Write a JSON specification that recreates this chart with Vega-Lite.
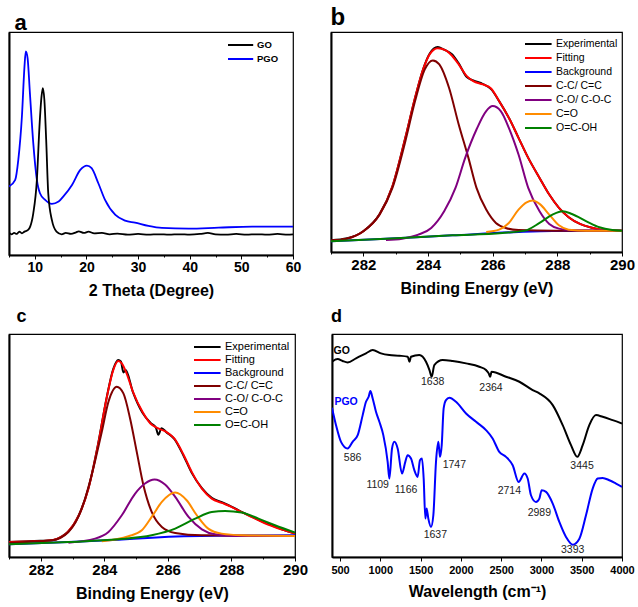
{
 "$schema": "https://vega.github.io/schema/vega-lite/v6.json",
 "padding": {"left": 7, "top": 5, "right": 2, "bottom": 2},
 "background": "white",
 "config": {
  "view": {"stroke": "black", "strokeWidth": 1.2},
  "font": "Liberation Sans",
  "title": {"anchor": "start", "font": "Liberation Sans", "fontSize": 22, "fontWeight": "bold", "color": "black", "offset": 2},
  "axis": {"labelFont": "Liberation Sans", "labelFontWeight": "bold", "labelFontSize": 15, "labelColor": "black", "titleFont": "Liberation Sans", "titleFontWeight": "bold", "titleFontSize": 16, "titleColor": "black", "domainColor": "black", "domainWidth": 2, "tickColor": "black", "tickWidth": 1, "grid": false, "labelPadding": 1, "titlePadding": 8, "labelFlush": false, "labelOverlap": false},
  "axisY": {"labels": false, "ticks": false, "title": null},
  "legend": {"orient": "top-right", "offset": 4, "padding": 0, "title": null, "labelFont": "Liberation Sans", "labelFontSize": 10.5, "labelColor": "black", "symbolType": "M-1,0H2.8", "symbolStrokeWidth": 2, "symbolSize": 196, "labelOffset": 16, "rowPadding": 0}
 },
 "datasets": {
  "a": [
   {"x": 5.0, "y": 205, "s": "PGO"}, {"x": 6.2, "y": 225, "s": "PGO"}, {"x": 6.8, "y": 285, "s": "PGO"}, {"x": 7.5, "y": 415, "s": "PGO"}, {"x": 8.0, "y": 565, "s": "PGO"}, {"x": 8.25, "y": 610, "s": "PGO"}, {"x": 8.6, "y": 590, "s": "PGO"}, {"x": 9.05, "y": 485, "s": "PGO"}, {"x": 9.7, "y": 335, "s": "PGO"}, {"x": 10.4, "y": 225, "s": "PGO"}, {"x": 11.0, "y": 185, "s": "PGO"}, {"x": 12.0, "y": 165, "s": "PGO"}, {"x": 13.3, "y": 153, "s": "PGO"}, {"x": 14.6, "y": 160, "s": "PGO"}, {"x": 15.5, "y": 175, "s": "PGO"}, {"x": 17.2, "y": 210, "s": "PGO"}, {"x": 18.8, "y": 255, "s": "PGO"}, {"x": 20.1, "y": 268, "s": "PGO"}, {"x": 21.0, "y": 260, "s": "PGO"}, {"x": 22.3, "y": 215, "s": "PGO"}, {"x": 23.6, "y": 165, "s": "PGO"}, {"x": 25.6, "y": 120, "s": "PGO"}, {"x": 27.5, "y": 103, "s": "PGO"}, {"x": 29.4, "y": 97, "s": "PGO"}, {"x": 32.0, "y": 87, "s": "PGO"}, {"x": 34.6, "y": 81, "s": "PGO"}, {"x": 39.8, "y": 79, "s": "PGO"}, {"x": 45.6, "y": 82, "s": "PGO"}, {"x": 52.1, "y": 85, "s": "PGO"}, {"x": 60.0, "y": 85, "s": "PGO"},
   {"x": 5.0, "y": 67, "s": "GO"}, {"x": 5.5, "y": 62, "s": "GO"}, {"x": 6.0, "y": 66, "s": "GO"}, {"x": 6.5, "y": 63, "s": "GO"}, {"x": 7.0, "y": 70, "s": "GO"}, {"x": 7.5, "y": 65, "s": "GO"}, {"x": 8.0, "y": 70, "s": "GO"}, {"x": 8.7, "y": 75, "s": "GO"}, {"x": 9.1, "y": 85, "s": "GO"}, {"x": 9.7, "y": 125, "s": "GO"}, {"x": 10.4, "y": 225, "s": "GO"}, {"x": 10.9, "y": 385, "s": "GO"}, {"x": 11.3, "y": 475, "s": "GO"}, {"x": 11.55, "y": 500, "s": "GO"}, {"x": 11.85, "y": 465, "s": "GO"}, {"x": 12.2, "y": 345, "s": "GO"}, {"x": 12.6, "y": 185, "s": "GO"}, {"x": 13.3, "y": 105, "s": "GO"}, {"x": 14.2, "y": 70, "s": "GO"}, {"x": 15.2, "y": 62, "s": "GO"}, {"x": 16.0, "y": 66, "s": "GO"}, {"x": 17.0, "y": 63, "s": "GO"}, {"x": 18.0, "y": 68, "s": "GO"}, {"x": 18.5, "y": 71, "s": "GO"}, {"x": 19.5, "y": 66, "s": "GO"}, {"x": 20.4, "y": 70, "s": "GO"}, {"x": 21.5, "y": 65, "s": "GO"}, {"x": 23.0, "y": 66, "s": "GO"}, {"x": 24.5, "y": 62, "s": "GO"}, {"x": 26.0, "y": 64, "s": "GO"}, {"x": 28.0, "y": 61, "s": "GO"}, {"x": 30.0, "y": 63, "s": "GO"}, {"x": 32.0, "y": 61, "s": "GO"}, {"x": 34.0, "y": 62, "s": "GO"}, {"x": 36.0, "y": 61, "s": "GO"}, {"x": 38.0, "y": 62, "s": "GO"}, {"x": 40.0, "y": 61, "s": "GO"}, {"x": 42.0, "y": 63, "s": "GO"}, {"x": 43.5, "y": 66, "s": "GO"}, {"x": 45.0, "y": 62, "s": "GO"}, {"x": 47.0, "y": 61, "s": "GO"}, {"x": 49.0, "y": 63, "s": "GO"}, {"x": 51.0, "y": 61, "s": "GO"}, {"x": 53.0, "y": 62, "s": "GO"}, {"x": 55.0, "y": 61, "s": "GO"}, {"x": 57.0, "y": 63, "s": "GO"}, {"x": 59.0, "y": 61, "s": "GO"}, {"x": 60.0, "y": 62, "s": "GO"}
  ],
  "b": [
   {"x": 281.0, "y": 35, "s": "Experimental"}, {"x": 281.5, "y": 41, "s": "Experimental"}, {"x": 282.0, "y": 62, "s": "Experimental"}, {"x": 282.5, "y": 113, "s": "Experimental"}, {"x": 282.9, "y": 197, "s": "Experimental"}, {"x": 283.3, "y": 343, "s": "Experimental"}, {"x": 283.6, "y": 462, "s": "Experimental"}, {"x": 283.85, "y": 548, "s": "Experimental"}, {"x": 284.05, "y": 594, "s": "Experimental"}, {"x": 284.3, "y": 614, "s": "Experimental"}, {"x": 284.5, "y": 606, "s": "Experimental"}, {"x": 284.75, "y": 592, "s": "Experimental"}, {"x": 284.95, "y": 565, "s": "Experimental"}, {"x": 285.2, "y": 524, "s": "Experimental"}, {"x": 285.4, "y": 514, "s": "Experimental"}, {"x": 285.7, "y": 503, "s": "Experimental"}, {"x": 285.95, "y": 488, "s": "Experimental"}, {"x": 286.2, "y": 452, "s": "Experimental"}, {"x": 286.5, "y": 402, "s": "Experimental"}, {"x": 286.8, "y": 342, "s": "Experimental"}, {"x": 287.1, "y": 282, "s": "Experimental"}, {"x": 287.45, "y": 222, "s": "Experimental"}, {"x": 287.75, "y": 172, "s": "Experimental"}, {"x": 288.05, "y": 132, "s": "Experimental"}, {"x": 288.35, "y": 104, "s": "Experimental"}, {"x": 288.7, "y": 84, "s": "Experimental"}, {"x": 289.1, "y": 72, "s": "Experimental"}, {"x": 289.5, "y": 64, "s": "Experimental"}, {"x": 290.0, "y": 64, "s": "Experimental"},
   {"x": 281.0, "y": 34, "s": "Fitting"}, {"x": 281.5, "y": 40, "s": "Fitting"}, {"x": 282.0, "y": 62, "s": "Fitting"}, {"x": 282.5, "y": 112, "s": "Fitting"}, {"x": 282.9, "y": 197, "s": "Fitting"}, {"x": 283.3, "y": 342, "s": "Fitting"}, {"x": 283.6, "y": 462, "s": "Fitting"}, {"x": 283.85, "y": 547, "s": "Fitting"}, {"x": 284.05, "y": 592, "s": "Fitting"}, {"x": 284.3, "y": 610, "s": "Fitting"}, {"x": 284.55, "y": 604, "s": "Fitting"}, {"x": 284.75, "y": 587, "s": "Fitting"}, {"x": 284.95, "y": 562, "s": "Fitting"}, {"x": 285.2, "y": 527, "s": "Fitting"}, {"x": 285.4, "y": 512, "s": "Fitting"}, {"x": 285.7, "y": 502, "s": "Fitting"}, {"x": 285.95, "y": 490, "s": "Fitting"}, {"x": 286.2, "y": 452, "s": "Fitting"}, {"x": 286.5, "y": 402, "s": "Fitting"}, {"x": 286.8, "y": 342, "s": "Fitting"}, {"x": 287.1, "y": 282, "s": "Fitting"}, {"x": 287.45, "y": 222, "s": "Fitting"}, {"x": 287.75, "y": 172, "s": "Fitting"}, {"x": 288.05, "y": 132, "s": "Fitting"}, {"x": 288.35, "y": 104, "s": "Fitting"}, {"x": 288.7, "y": 84, "s": "Fitting"}, {"x": 289.1, "y": 72, "s": "Fitting"}, {"x": 289.5, "y": 66, "s": "Fitting"}, {"x": 290.0, "y": 64, "s": "Fitting"},
   {"x": 281.0, "y": 32, "s": "Background"}, {"x": 282.7, "y": 40, "s": "Background"}, {"x": 284.75, "y": 50, "s": "Background"}, {"x": 286.8, "y": 60, "s": "Background"}, {"x": 287.85, "y": 63, "s": "Background"}, {"x": 290.0, "y": 64, "s": "Background"},
   {"x": 281.0, "y": 34, "s": "C-C/ C=C"}, {"x": 281.5, "y": 40, "s": "C-C/ C=C"}, {"x": 282.0, "y": 62, "s": "C-C/ C=C"}, {"x": 282.5, "y": 112, "s": "C-C/ C=C"}, {"x": 282.9, "y": 192, "s": "C-C/ C=C"}, {"x": 283.3, "y": 332, "s": "C-C/ C=C"}, {"x": 283.6, "y": 452, "s": "C-C/ C=C"}, {"x": 283.9, "y": 547, "s": "C-C/ C=C"}, {"x": 284.15, "y": 574, "s": "C-C/ C=C"}, {"x": 284.35, "y": 562, "s": "C-C/ C=C"}, {"x": 284.65, "y": 492, "s": "C-C/ C=C"}, {"x": 284.95, "y": 382, "s": "C-C/ C=C"}, {"x": 285.25, "y": 282, "s": "C-C/ C=C"}, {"x": 285.5, "y": 192, "s": "C-C/ C=C"}, {"x": 285.8, "y": 127, "s": "C-C/ C=C"}, {"x": 286.1, "y": 87, "s": "C-C/ C=C"}, {"x": 286.4, "y": 72, "s": "C-C/ C=C"}, {"x": 286.8, "y": 66, "s": "C-C/ C=C"}, {"x": 287.9, "y": 64, "s": "C-C/ C=C"}, {"x": 290.0, "y": 64, "s": "C-C/ C=C"},
   {"x": 282.7, "y": 36, "s": "C-O/ C-O-C"}, {"x": 283.2, "y": 40, "s": "C-O/ C-O-C"}, {"x": 283.7, "y": 52, "s": "C-O/ C-O-C"}, {"x": 284.1, "y": 72, "s": "C-O/ C-O-C"}, {"x": 284.5, "y": 122, "s": "C-O/ C-O-C"}, {"x": 284.85, "y": 192, "s": "C-O/ C-O-C"}, {"x": 285.15, "y": 282, "s": "C-O/ C-O-C"}, {"x": 285.5, "y": 367, "s": "C-O/ C-O-C"}, {"x": 285.8, "y": 422, "s": "C-O/ C-O-C"}, {"x": 286.0, "y": 437, "s": "C-O/ C-O-C"}, {"x": 286.25, "y": 422, "s": "C-O/ C-O-C"}, {"x": 286.5, "y": 372, "s": "C-O/ C-O-C"}, {"x": 286.8, "y": 292, "s": "C-O/ C-O-C"}, {"x": 287.1, "y": 192, "s": "C-O/ C-O-C"}, {"x": 287.45, "y": 122, "s": "C-O/ C-O-C"}, {"x": 287.75, "y": 84, "s": "C-O/ C-O-C"}, {"x": 288.05, "y": 70, "s": "C-O/ C-O-C"}, {"x": 288.45, "y": 65, "s": "C-O/ C-O-C"}, {"x": 290.0, "y": 64, "s": "C-O/ C-O-C"},
   {"x": 285.8, "y": 60, "s": "C=O"}, {"x": 286.2, "y": 67, "s": "C=O"}, {"x": 286.5, "y": 87, "s": "C=O"}, {"x": 286.8, "y": 127, "s": "C=O"}, {"x": 287.05, "y": 149, "s": "C=O"}, {"x": 287.24, "y": 154, "s": "C=O"}, {"x": 287.45, "y": 144, "s": "C=O"}, {"x": 287.75, "y": 112, "s": "C=O"}, {"x": 288.05, "y": 80, "s": "C=O"}, {"x": 288.35, "y": 67, "s": "C=O"}, {"x": 288.9, "y": 64, "s": "C=O"}, {"x": 290.0, "y": 64, "s": "C=O"},
   {"x": 281.0, "y": 32, "s": "O=C-OH"}, {"x": 282.7, "y": 40, "s": "O=C-OH"}, {"x": 284.75, "y": 50, "s": "O=C-OH"}, {"x": 286.3, "y": 57, "s": "O=C-OH"}, {"x": 287.0, "y": 64, "s": "O=C-OH"}, {"x": 287.45, "y": 87, "s": "O=C-OH"}, {"x": 287.85, "y": 112, "s": "O=C-OH"}, {"x": 288.16, "y": 122, "s": "O=C-OH"}, {"x": 288.45, "y": 114, "s": "O=C-OH"}, {"x": 288.9, "y": 92, "s": "O=C-OH"}, {"x": 289.3, "y": 74, "s": "O=C-OH"}, {"x": 289.7, "y": 66, "s": "O=C-OH"}, {"x": 290.0, "y": 64, "s": "O=C-OH"}
  ],
  "c": [
   {"x": 281.0, "y": 45, "s": "Experimental"}, {"x": 281.8, "y": 48, "s": "Experimental"}, {"x": 282.35, "y": 50, "s": "Experimental"}, {"x": 282.65, "y": 61, "s": "Experimental"}, {"x": 282.85, "y": 75, "s": "Experimental"}, {"x": 283.2, "y": 126, "s": "Experimental"}, {"x": 283.5, "y": 206, "s": "Experimental"}, {"x": 283.8, "y": 337, "s": "Experimental"}, {"x": 284.07, "y": 476, "s": "Experimental"}, {"x": 284.28, "y": 563, "s": "Experimental"}, {"x": 284.44, "y": 590, "s": "Experimental"}, {"x": 284.52, "y": 586, "s": "Experimental"}, {"x": 284.6, "y": 553, "s": "Experimental"}, {"x": 284.67, "y": 560, "s": "Experimental"}, {"x": 284.9, "y": 494, "s": "Experimental"}, {"x": 285.2, "y": 432, "s": "Experimental"}, {"x": 285.45, "y": 402, "s": "Experimental"}, {"x": 285.62, "y": 388, "s": "Experimental"}, {"x": 285.7, "y": 366, "s": "Experimental"}, {"x": 285.8, "y": 386, "s": "Experimental"}, {"x": 285.95, "y": 374, "s": "Experimental"}, {"x": 286.2, "y": 354, "s": "Experimental"}, {"x": 286.5, "y": 302, "s": "Experimental"}, {"x": 286.75, "y": 252, "s": "Experimental"}, {"x": 287.07, "y": 206, "s": "Experimental"}, {"x": 287.38, "y": 177, "s": "Experimental"}, {"x": 287.7, "y": 164, "s": "Experimental"}, {"x": 288.0, "y": 151, "s": "Experimental"}, {"x": 288.3, "y": 136, "s": "Experimental"}, {"x": 288.75, "y": 116, "s": "Experimental"}, {"x": 289.15, "y": 99, "s": "Experimental"}, {"x": 289.6, "y": 82, "s": "Experimental"}, {"x": 290.0, "y": 70, "s": "Experimental"},
   {"x": 281.0, "y": 45, "s": "Fitting"}, {"x": 281.8, "y": 47, "s": "Fitting"}, {"x": 282.35, "y": 50, "s": "Fitting"}, {"x": 282.65, "y": 60, "s": "Fitting"}, {"x": 282.85, "y": 75, "s": "Fitting"}, {"x": 283.2, "y": 125, "s": "Fitting"}, {"x": 283.5, "y": 205, "s": "Fitting"}, {"x": 283.8, "y": 335, "s": "Fitting"}, {"x": 284.07, "y": 475, "s": "Fitting"}, {"x": 284.28, "y": 560, "s": "Fitting"}, {"x": 284.44, "y": 587, "s": "Fitting"}, {"x": 284.55, "y": 580, "s": "Fitting"}, {"x": 284.7, "y": 550, "s": "Fitting"}, {"x": 284.9, "y": 495, "s": "Fitting"}, {"x": 285.2, "y": 435, "s": "Fitting"}, {"x": 285.45, "y": 400, "s": "Fitting"}, {"x": 285.7, "y": 385, "s": "Fitting"}, {"x": 285.95, "y": 375, "s": "Fitting"}, {"x": 286.2, "y": 355, "s": "Fitting"}, {"x": 286.5, "y": 305, "s": "Fitting"}, {"x": 286.75, "y": 255, "s": "Fitting"}, {"x": 287.07, "y": 205, "s": "Fitting"}, {"x": 287.38, "y": 175, "s": "Fitting"}, {"x": 287.7, "y": 162, "s": "Fitting"}, {"x": 288.0, "y": 150, "s": "Fitting"}, {"x": 288.3, "y": 135, "s": "Fitting"}, {"x": 288.75, "y": 115, "s": "Fitting"}, {"x": 289.15, "y": 97, "s": "Fitting"}, {"x": 289.6, "y": 82, "s": "Fitting"}, {"x": 290.0, "y": 70, "s": "Fitting"},
   {"x": 281.0, "y": 38, "s": "Background"}, {"x": 282.87, "y": 45, "s": "Background"}, {"x": 284.44, "y": 52, "s": "Background"}, {"x": 285.5, "y": 58, "s": "Background"}, {"x": 286.5, "y": 62, "s": "Background"}, {"x": 287.5, "y": 64, "s": "Background"}, {"x": 290.0, "y": 65, "s": "Background"},
   {"x": 281.0, "y": 43, "s": "C-C/ C=C"}, {"x": 282.35, "y": 50, "s": "C-C/ C=C"}, {"x": 282.87, "y": 75, "s": "C-C/ C=C"}, {"x": 283.29, "y": 145, "s": "C-C/ C=C"}, {"x": 283.6, "y": 245, "s": "C-C/ C=C"}, {"x": 283.92, "y": 375, "s": "C-C/ C=C"}, {"x": 284.13, "y": 465, "s": "C-C/ C=C"}, {"x": 284.39, "y": 510, "s": "C-C/ C=C"}, {"x": 284.6, "y": 490, "s": "C-C/ C=C"}, {"x": 284.81, "y": 415, "s": "C-C/ C=C"}, {"x": 285.02, "y": 315, "s": "C-C/ C=C"}, {"x": 285.23, "y": 215, "s": "C-C/ C=C"}, {"x": 285.49, "y": 135, "s": "C-C/ C=C"}, {"x": 285.81, "y": 90, "s": "C-C/ C=C"}, {"x": 286.23, "y": 72, "s": "C-C/ C=C"}, {"x": 287.07, "y": 65, "s": "C-C/ C=C"}, {"x": 290.0, "y": 63, "s": "C-C/ C=C"},
   {"x": 282.87, "y": 43, "s": "C-O/ C-O-C"}, {"x": 283.71, "y": 55, "s": "C-O/ C-O-C"}, {"x": 284.13, "y": 75, "s": "C-O/ C-O-C"}, {"x": 284.55, "y": 125, "s": "C-O/ C-O-C"}, {"x": 284.97, "y": 190, "s": "C-O/ C-O-C"}, {"x": 285.28, "y": 220, "s": "C-O/ C-O-C"}, {"x": 285.58, "y": 232, "s": "C-O/ C-O-C"}, {"x": 285.91, "y": 217, "s": "C-O/ C-O-C"}, {"x": 286.23, "y": 180, "s": "C-O/ C-O-C"}, {"x": 286.65, "y": 120, "s": "C-O/ C-O-C"}, {"x": 287.07, "y": 83, "s": "C-O/ C-O-C"}, {"x": 287.48, "y": 68, "s": "C-O/ C-O-C"}, {"x": 288.11, "y": 63, "s": "C-O/ C-O-C"}, {"x": 290.0, "y": 63, "s": "C-O/ C-O-C"},
   {"x": 283.92, "y": 47, "s": "C=O"}, {"x": 284.76, "y": 62, "s": "C=O"}, {"x": 285.18, "y": 80, "s": "C=O"}, {"x": 285.49, "y": 120, "s": "C=O"}, {"x": 285.81, "y": 165, "s": "C=O"}, {"x": 286.23, "y": 193, "s": "C=O"}, {"x": 286.59, "y": 170, "s": "C=O"}, {"x": 286.91, "y": 125, "s": "C=O"}, {"x": 287.27, "y": 85, "s": "C=O"}, {"x": 287.69, "y": 70, "s": "C=O"}, {"x": 288.32, "y": 65, "s": "C=O"}, {"x": 290.0, "y": 63, "s": "C=O"},
   {"x": 281.0, "y": 38, "s": "O=C-OH"}, {"x": 282.87, "y": 45, "s": "O=C-OH"}, {"x": 284.44, "y": 53, "s": "O=C-OH"}, {"x": 285.49, "y": 65, "s": "O=C-OH"}, {"x": 286.23, "y": 85, "s": "O=C-OH"}, {"x": 286.86, "y": 115, "s": "O=C-OH"}, {"x": 287.38, "y": 135, "s": "O=C-OH"}, {"x": 287.8, "y": 138, "s": "O=C-OH"}, {"x": 288.32, "y": 133, "s": "O=C-OH"}, {"x": 288.85, "y": 115, "s": "O=C-OH"}, {"x": 289.37, "y": 95, "s": "O=C-OH"}, {"x": 290.0, "y": 73, "s": "O=C-OH"}
  ],
  "d": [
   {"x": 400, "y": 585, "s": "GO"}, {"x": 470, "y": 593, "s": "GO"}, {"x": 532, "y": 587, "s": "GO"}, {"x": 594, "y": 583, "s": "GO"}, {"x": 698, "y": 595, "s": "GO"}, {"x": 822, "y": 610, "s": "GO"}, {"x": 905, "y": 620, "s": "GO"}, {"x": 1008, "y": 610, "s": "GO"}, {"x": 1112, "y": 605, "s": "GO"}, {"x": 1236, "y": 603, "s": "GO"}, {"x": 1340, "y": 600, "s": "GO"}, {"x": 1362, "y": 585, "s": "GO"}, {"x": 1380, "y": 600, "s": "GO"}, {"x": 1484, "y": 605, "s": "GO"}, {"x": 1567, "y": 585, "s": "GO"}, {"x": 1610, "y": 560, "s": "GO"}, {"x": 1638, "y": 540, "s": "GO"}, {"x": 1670, "y": 575, "s": "GO"}, {"x": 1774, "y": 590, "s": "GO"}, {"x": 1898, "y": 587, "s": "GO"}, {"x": 2064, "y": 580, "s": "GO"}, {"x": 2229, "y": 570, "s": "GO"}, {"x": 2312, "y": 560, "s": "GO"}, {"x": 2345, "y": 550, "s": "GO"}, {"x": 2364, "y": 540, "s": "GO"}, {"x": 2380, "y": 555, "s": "GO"}, {"x": 2560, "y": 540, "s": "GO"}, {"x": 2726, "y": 525, "s": "GO"}, {"x": 2891, "y": 500, "s": "GO"}, {"x": 2974, "y": 490, "s": "GO"}, {"x": 3140, "y": 455, "s": "GO"}, {"x": 3264, "y": 395, "s": "GO"}, {"x": 3367, "y": 335, "s": "GO"}, {"x": 3445, "y": 300, "s": "GO"}, {"x": 3512, "y": 335, "s": "GO"}, {"x": 3594, "y": 395, "s": "GO"}, {"x": 3677, "y": 425, "s": "GO"}, {"x": 3760, "y": 420, "s": "GO"}, {"x": 3884, "y": 410, "s": "GO"}, {"x": 4000, "y": 400, "s": "GO"},
   {"x": 400, "y": 447, "s": "PGO"}, {"x": 450, "y": 395, "s": "PGO"}, {"x": 512, "y": 345, "s": "PGO"}, {"x": 594, "y": 325, "s": "PGO"}, {"x": 656, "y": 345, "s": "PGO"}, {"x": 719, "y": 365, "s": "PGO"}, {"x": 781, "y": 425, "s": "PGO"}, {"x": 822, "y": 465, "s": "PGO"}, {"x": 855, "y": 480, "s": "PGO"}, {"x": 876, "y": 497, "s": "PGO"}, {"x": 905, "y": 475, "s": "PGO"}, {"x": 946, "y": 435, "s": "PGO"}, {"x": 988, "y": 405, "s": "PGO"}, {"x": 1037, "y": 365, "s": "PGO"}, {"x": 1091, "y": 285, "s": "PGO"}, {"x": 1112, "y": 235, "s": "PGO"}, {"x": 1145, "y": 325, "s": "PGO"}, {"x": 1174, "y": 345, "s": "PGO"}, {"x": 1215, "y": 325, "s": "PGO"}, {"x": 1269, "y": 250, "s": "PGO"}, {"x": 1310, "y": 285, "s": "PGO"}, {"x": 1339, "y": 305, "s": "PGO"}, {"x": 1381, "y": 295, "s": "PGO"}, {"x": 1422, "y": 260, "s": "PGO"}, {"x": 1463, "y": 240, "s": "PGO"}, {"x": 1492, "y": 290, "s": "PGO"}, {"x": 1517, "y": 295, "s": "PGO"}, {"x": 1538, "y": 235, "s": "PGO"}, {"x": 1559, "y": 115, "s": "PGO"}, {"x": 1575, "y": 145, "s": "PGO"}, {"x": 1596, "y": 115, "s": "PGO"}, {"x": 1629, "y": 90, "s": "PGO"}, {"x": 1658, "y": 125, "s": "PGO"}, {"x": 1691, "y": 285, "s": "PGO"}, {"x": 1720, "y": 345, "s": "PGO"}, {"x": 1741, "y": 300, "s": "PGO"}, {"x": 1762, "y": 335, "s": "PGO"}, {"x": 1786, "y": 445, "s": "PGO"}, {"x": 1815, "y": 470, "s": "PGO"}, {"x": 1857, "y": 477, "s": "PGO"}, {"x": 1939, "y": 465, "s": "PGO"}, {"x": 2064, "y": 430, "s": "PGO"}, {"x": 2188, "y": 405, "s": "PGO"}, {"x": 2312, "y": 380, "s": "PGO"}, {"x": 2394, "y": 355, "s": "PGO"}, {"x": 2477, "y": 315, "s": "PGO"}, {"x": 2560, "y": 300, "s": "PGO"}, {"x": 2643, "y": 275, "s": "PGO"}, {"x": 2717, "y": 225, "s": "PGO"}, {"x": 2788, "y": 250, "s": "PGO"}, {"x": 2829, "y": 235, "s": "PGO"}, {"x": 2870, "y": 185, "s": "PGO"}, {"x": 2932, "y": 165, "s": "PGO"}, {"x": 2974, "y": 175, "s": "PGO"}, {"x": 3003, "y": 200, "s": "PGO"}, {"x": 3057, "y": 195, "s": "PGO"}, {"x": 3140, "y": 160, "s": "PGO"}, {"x": 3222, "y": 105, "s": "PGO"}, {"x": 3305, "y": 60, "s": "PGO"}, {"x": 3388, "y": 37, "s": "PGO"}, {"x": 3471, "y": 55, "s": "PGO"}, {"x": 3553, "y": 125, "s": "PGO"}, {"x": 3636, "y": 205, "s": "PGO"}, {"x": 3698, "y": 235, "s": "PGO"}, {"x": 3760, "y": 237, "s": "PGO"}, {"x": 3843, "y": 230, "s": "PGO"}, {"x": 3925, "y": 220, "s": "PGO"}, {"x": 4000, "y": 210, "s": "PGO"}
  ],
  "dser": [
   {"x": 420, "y": 617, "t": "GO", "s": "GO"}, {"x": 430, "y": 465, "t": "PGO", "s": "PGO"}
  ],
  "dlab": [
   {"x": 1650, "y": 525, "t": "1638"}, {"x": 2374, "y": 507, "t": "2364"}, {"x": 656, "y": 297, "t": "586"}, {"x": 967, "y": 217, "t": "1109"}, {"x": 1319, "y": 200, "t": "1166"}, {"x": 1919, "y": 277, "t": "1747"}, {"x": 1683, "y": 67, "t": "1637"}, {"x": 2601, "y": 197, "t": "2714"}, {"x": 2974, "y": 133, "t": "2989"}, {"x": 3504, "y": 273, "t": "3445"}, {"x": 3388, "y": 20, "t": "3393"}
  ]
 },
 "spacing": 8,
 "resolve": {"scale": {"color": "independent"}, "legend": {"color": "independent"}},
 "vconcat": [
  {
   "hconcat": [
    {
     "width": 284, "height": 223,
     "title": {"text": "a", "dx": 6, "offset": -3},
     "data": {"name": "a"},
     "mark": {"type": "line", "strokeWidth": 1.8, "interpolate": "monotone", "clip": true},
     "encoding": {
      "x": {"field": "x", "type": "quantitative", "scale": {"domain": [5, 60], "nice": false, "zero": false}, "axis": {"title": "2 Theta (Degree)", "labelFontSize": 14, "values": [5, 10, 15, 20, 25, 30, 35, 40, 45, 50, 55, 60], "labelExpr": "datum.value % 10 == 0 ? datum.label : ''", "tickSize": {"condition": {"test": "datum.value % 10 != 0", "value": 2}, "value": 4}}},
      "y": {"field": "y", "type": "quantitative", "scale": {"domain": [0, 668], "nice": false}},
      "color": {"field": "s", "type": "nominal", "scale": {"domain": ["GO", "PGO"], "range": ["black", "#0000ff"]}, "legend": {"orient": "none", "legendX": 218, "legendY": 5, "labelFontWeight": "bold", "labelFontSize": 9.5, "symbolType": "M-1,0H2.6", "labelOffset": 14, "rowPadding": 1}}
     }
    },
    {
     "width": 291, "height": 220,
     "title": {"text": "b", "fontSize": 24},
     "data": {"name": "b"},
     "mark": {"type": "line", "strokeWidth": 2, "interpolate": "monotone", "clip": true},
     "encoding": {
      "x": {"field": "x", "type": "quantitative", "scale": {"domain": [281, 290], "nice": false, "zero": false}, "axis": {"title": "Binding Energy (eV)", "values": [281, 282, 283, 284, 285, 286, 287, 288, 289, 290], "labelExpr": "datum.value % 2 == 0 ? datum.label : ''", "tickSize": {"condition": {"test": "datum.value % 2 != 0", "value": 2}, "value": 4}}},
      "y": {"field": "y", "type": "quantitative", "scale": {"domain": [0, 659], "nice": false}},
      "color": {"field": "s", "type": "nominal", "sort": null, "scale": {"domain": ["Experimental", "Fitting", "Background", "C-C/ C=C", "C-O/ C-O-C", "C=O", "O=C-OH"], "range": ["black", "#ff0000", "#0000ff", "#7f0000", "#800080", "#ff8c00", "#008000"]}, "legend": {"offset": 4}}
     }
    }
   ],
   "spacing": 27,
   "resolve": {"scale": {"color": "independent"}, "legend": {"color": "independent"}}
  },
  {
   "hconcat": [
    {
     "width": 286, "height": 223,
     "title": {"text": "c", "fontSize": 18, "dx": 8, "offset": 8},
     "data": {"name": "c"},
     "mark": {"type": "line", "strokeWidth": 2, "interpolate": "monotone", "clip": true},
     "encoding": {
      "x": {"field": "x", "type": "quantitative", "scale": {"domain": [281, 290], "nice": false, "zero": false}, "axis": {"title": "Binding Energy (eV)", "values": [281, 282, 283, 284, 285, 286, 287, 288, 289, 290], "labelExpr": "datum.value % 2 == 0 ? datum.label : ''", "tickSize": {"condition": {"test": "datum.value % 2 != 0", "value": 2}, "value": 4}}},
      "y": {"field": "y", "type": "quantitative", "scale": {"domain": [0, 668], "nice": false}},
      "color": {"field": "s", "type": "nominal", "sort": null, "scale": {"domain": ["Experimental", "Fitting", "Background", "C-C/ C=C", "C-O/ C-O-C", "C=O", "O=C-OH"], "range": ["black", "#ff0000", "#0000ff", "#7f0000", "#800080", "#ff8c00", "#008000"]}, "legend": {"offset": 5, "labelFontSize": 11}}
     }
    },
    {
     "width": 290, "height": 223,
     "title": {"text": "d", "fontSize": 18, "offset": 8},
     "layer": [
      {
       "data": {"name": "d"},
       "mark": {"type": "line", "strokeWidth": 2, "interpolate": "monotone", "clip": true},
       "encoding": {
        "x": {"field": "x", "type": "quantitative", "scale": {"domain": [400, 4000], "nice": false, "zero": false}, "axis": {"title": "Wavelength (cm⁻¹)", "format": "d", "labelFontSize": 11, "labelPadding": 3, "titlePadding": 8, "values": [500, 750, 1000, 1250, 1500, 1750, 2000, 2250, 2500, 2750, 3000, 3250, 3500, 3750, 4000], "labelExpr": "datum.value % 500 == 0 ? datum.label : ''", "tickSize": {"condition": {"test": "datum.value % 500 != 0", "value": 2}, "value": 4}}},
        "y": {"field": "y", "type": "quantitative", "scale": {"domain": [0, 668], "nice": false}},
        "color": {"field": "s", "type": "nominal", "scale": {"domain": ["GO", "PGO"], "range": ["black", "#0000ff"]}, "legend": null}
       }
      },
      {
       "data": {"name": "dser"},
       "mark": {"type": "text", "align": "left", "baseline": "middle", "fontWeight": "bold", "fontSize": 10.5},
       "encoding": {
        "x": {"field": "x", "type": "quantitative"},
        "y": {"field": "y", "type": "quantitative"},
        "text": {"field": "t"},
        "color": {"field": "s", "type": "nominal", "legend": null}
       }
      },
      {
       "data": {"name": "dlab"},
       "mark": {"type": "text", "align": "center", "baseline": "middle", "fontSize": 10.5, "color": "#222222"},
       "encoding": {
        "x": {"field": "x", "type": "quantitative"},
        "y": {"field": "y", "type": "quantitative"},
        "text": {"field": "t"}
       }
      }
     ]
    }
   ],
   "spacing": 21,
   "resolve": {"scale": {"color": "independent"}, "legend": {"color": "independent"}}
  }
 ]
}
